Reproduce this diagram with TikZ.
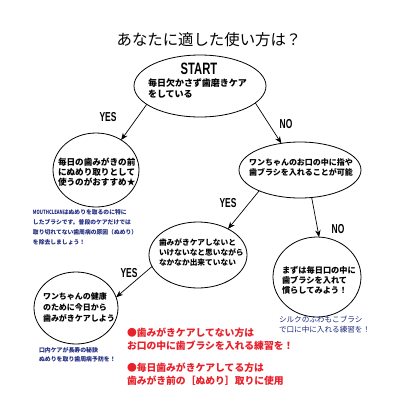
\documentclass[tikz,border=0pt]{standalone}
\usepackage{fontspec}
\usepackage{graphicx}
\setmainfont{Noto Sans CJK JP}
\newfontfamily\labfont{Liberation Sans}
\usetikzlibrary{shapes.geometric,arrows.meta}
\definecolor{navy}{HTML}{1E2A7E}
\definecolor{redt}{HTML}{E8202A}
\tikzset{
  bub/.style={draw, ellipse, line width=0.8pt, inner sep=0pt, outer sep=0pt},
  txt/.style={inner sep=0pt, outer sep=0pt, align=left, anchor=north west},
  lbl/.style={inner sep=0pt, font={\labfont\bfseries\fontsize{13}{13}\selectfont}},
  arr/.style={-{Stealth[length=7pt,width=5.5pt]}, line width=0.7pt}
}
\newcommand{\cond}[2]{\scalebox{#1}[1]{#2}}
\begin{document}
\begin{tikzpicture}[x=1pt,y=-1pt]
\useasboundingbox (0,0) rectangle (400,400);
\fill[white] (0,0) rectangle (400,400);

\node[inner sep=0pt, font={\fontsize{15.4}{16}\selectfont}] (title) at (209,40) {あなたに適した使い方は？};

% ellipses
\node[bub, minimum width=132pt, minimum height=62pt] (e0) at (200,86) {};
\node[bub, minimum width=86pt, minimum height=74pt] (e1) at (96,170) {};
\node[bub, minimum width=122pt, minimum height=56pt] (e2) at (300,170) {};
\node[bub, minimum width=98pt, minimum height=66pt] (e3) at (198,255) {};
\node[bub, minimum width=88pt, minimum height=80pt] (e4) at (317,277) {};
\node[bub, minimum width=84pt, minimum height=72pt] (e5) at (76,308) {};

% texts
\node[lbl, font={\labfont\bfseries\fontsize{16.5}{16.5}\selectfont}] (st) at (199,69) {\cond{0.68}{START}};
\node[txt, font={\bfseries\fontsize{9}{11.5}\selectfont}] (t0) at (148,78.5) {毎日欠かさず歯磨きケア\\をしている};
\node[txt, font={\bfseries\fontsize{8.6}{10}\selectfont}] (t1) at (58,157.7) {毎日の歯みがきの前\\にぬめり取りとして\\使うのがおすすめ★};
\node[txt, font={\bfseries\fontsize{8}{10}\selectfont}] (t2) at (249,159) {ワンちゃんのお口の中に指や\\歯ブラシを入れることが可能};
\node[txt, font={\bfseries\fontsize{7.7}{9.7}\selectfont}] (t3) at (159,239) {歯みがきケアしないと\\いけないなと思いながら\\なかなか出来ていない};
\node[txt, font={\bfseries\fontsize{8.2}{9.8}\selectfont}] (t4) at (282,266.5) {まずは毎日口の中に\\歯ブラシを入れて\\慣らしてみよう！};
\node[txt, font={\bfseries\fontsize{8}{11}\selectfont}] (t5) at (43,293) {ワンちゃんの健康\\のために今日から\\歯みがきケアしよう};

% labels
\node[lbl] (y1) at (108,117) {\cond{0.65}{YES}};
\node[lbl] (n1) at (286,124) {\cond{0.65}{NO}};
\node[lbl] (y2) at (228,203) {\cond{0.65}{YES}};
\node[lbl] (n2) at (338,229) {\cond{0.65}{NO}};
\node[lbl] (y3) at (129,273) {\cond{0.65}{YES}};

% blue notes
\node[txt, text=navy, font={\bfseries\fontsize{5.8}{10}\selectfont}] (b1) at (33,210)
  {\cond{0.72}{MOUTHCLEAN}はぬめりを取るのに特に\\したブラシです。普段のケアだけでは\\取り切れてない歯周病の原因（ぬめり）\\を除去しましょう！};
\node[txt, text=navy, font={\fontsize{7.6}{10}\selectfont}] (b2) at (279,316)
  {シルクのふわもこブラシ\\で口に中に入れる練習を！};
\node[txt, text=navy, font={\bfseries\fontsize{5.9}{9}\selectfont}] (b3) at (39,347)
  {口内ケアが長寿の秘訣\\ぬめりを取り歯周病予防を！};

% red notes
\node[txt, text=redt, font={\bfseries\fontsize{9.8}{12.5}\selectfont}] (r1) at (127,328)
  {●歯みがきケアしてない方は\\お口の中に歯ブラシを入れる練習を！};
\node[txt, text=redt, font={\bfseries\fontsize{9.8}{12.5}\selectfont}] (r2) at (127,363)
  {●毎日歯みがきケアしてる方は\\歯みがき前の［ぬめり］取りに使用};

% arrows
\draw[arr] (e0.199) -- (e1.50);
\draw[arr] (e0.343) -- (e2.125);
\draw[arr] (e2.207) -- (e3.41);
\draw[arr] (e2.293) -- (e4.87);
\draw[arr] (e3.194) -- (e5.15);
\end{tikzpicture}
\end{document}
